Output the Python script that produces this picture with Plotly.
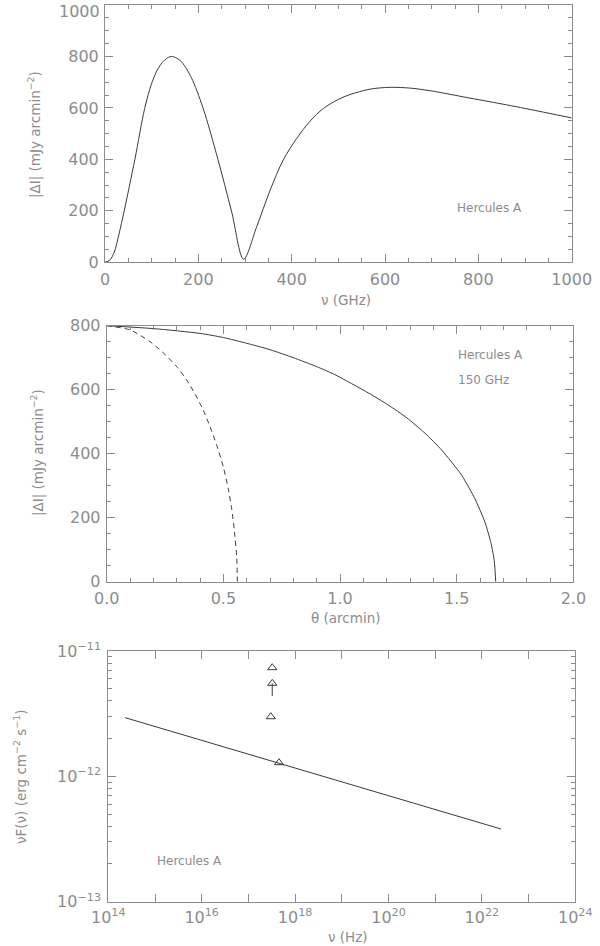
import plotly.graph_objects as go

# top panel: |dI| against frequency (GHz)
nu_ghz = [0, 10, 20, 30, 41, 64, 85, 99, 110, 120, 131, 142, 154, 165, 185, 210, 242,
          271, 297, 325, 354, 382, 411, 439, 468, 500, 525, 568, 611, 654, 696,
          739, 782, 825, 900, 1000]
di_nu = [0, 8, 40, 110, 199, 400, 598, 690, 740, 770, 791, 800, 793, 777, 718, 600, 400,
         199, 12, 138, 281, 398, 482, 548, 598, 633, 652, 673, 680, 677, 667,
         653, 638, 624, 598, 561]
ytick_top = [0, 200, 400, 600, 800, 1000]

# middle panel: profiles at 150 GHz
theta_solid = [0, 0.2, 0.4, 0.5, 0.6, 0.7, 0.8, 0.9, 0.978, 1.121, 1.207, 1.286,
               1.364, 1.436, 1.521, 1.578, 1.621, 1.647, 1.661, 1.667]
di_solid = [800, 791, 776, 763, 745, 725, 700, 672, 647, 590, 552, 512,
            464, 411, 333, 259, 186, 120, 65, 0]
theta_dash = [0, 0.1, 0.186, 0.25, 0.3, 0.343, 0.379, 0.414, 0.443, 0.471,
              0.5, 0.521, 0.536, 0.547, 0.557, 0.56]
di_dash = [800, 787, 750, 710, 672, 630, 586, 536, 484, 428, 358, 290, 226,
           160, 80, 0]

# bottom panel: nuF(nu)
nu_line = [2.28e14, 2.57e22]
nuf_line = [2.94e-12, 3.8e-13]
nu_obs = [3.24e17, 3.24e17, 3.02e17, 4.52e17]
nuf_obs = [7.36e-12, 5.52e-12, 2.99e-12, 1.285e-12]
nuf_err_lo = [0, 1.15e-12, 0, 0]

ytick_log = [1e-13, 1e-12, 1e-11]
ytick_log_txt = ['10<sup>−13</sup>', '10<sup>−12</sup>', '10<sup>−11</sup>']
xtick_log = [10.0 ** k for k in range(14, 25)]
xtick_log_txt = ['10<sup>%d</sup>' % k if k % 2 == 0 else '' for k in range(14, 25)]

FONT = 'DejaVu Sans'
TXT = '#8c8c8c'
AX = '#8c8c8c'
LINE = '#3a3a3a'
W, H = 600, 946

fig = go.Figure()
fig.add_trace(go.Scatter(x=nu_ghz, y=di_nu, mode='lines', xaxis='x', yaxis='y',
                         line=dict(color=LINE, width=1, shape='spline', smoothing=0.9)))
fig.add_trace(go.Scatter(x=theta_solid, y=di_solid, mode='lines', xaxis='x2', yaxis='y2',
                         line=dict(color=LINE, width=1, shape='spline', smoothing=0.6)))
fig.add_trace(go.Scatter(x=theta_dash, y=di_dash, mode='lines', xaxis='x2', yaxis='y2',
                         line=dict(color=LINE, width=1, dash='5px,4px', shape='spline', smoothing=0.6)))
fig.add_trace(go.Scatter(x=nu_line, y=nuf_line, mode='lines', xaxis='x3', yaxis='y3',
                         line=dict(color=LINE, width=1)))
fig.add_trace(go.Scatter(x=nu_obs, y=nuf_obs, mode='markers', xaxis='x3', yaxis='y3',
                         marker=dict(symbol='triangle-up-open', size=8, color=LINE,
                                     line=dict(width=1, color=LINE)),
                         error_y=dict(type='data', symmetric=False, array=[0, 0, 0, 0],
                                      arrayminus=nuf_err_lo, width=0, thickness=1, color=LINE)))


def axis_style(**kw):
    d = dict(showline=True, linecolor=AX, linewidth=1, mirror='ticks', ticks='inside',
             tickcolor=AX, ticklen=8, tickwidth=1, showgrid=False, zeroline=False,
             tickfont=dict(family=FONT, size=16, color=TXT),
             ticklabeloverflow='allow', automargin=False)
    d.update(kw)
    return d


def px_x(p):
    return p / W


def px_y(p):
    return 1 - p / H


def minor_lin(dt):
    return dict(dtick=dt, ticks='inside', ticklen=4, tickcolor=AX)


# the top "1000" label sits just inside the figure edge, so it is written separately below
ytick_top_txt = [str(v) for v in ytick_top[:-1]] + ['']

fig.update_layout(
    width=W, height=H, showlegend=False,
    paper_bgcolor='white', plot_bgcolor='white',
    margin=dict(l=0, r=0, t=0, b=0),
    xaxis=axis_style(domain=[px_x(105), px_x(571.7)], anchor='y', range=[0, 1000],
                     tickvals=[0, 200, 400, 600, 800, 1000], minor=minor_lin(50),
                     ticklabelstandoff=2),
    yaxis=axis_style(domain=[px_y(262.3), px_y(5)], anchor='x', range=[0, 1000],
                     tickvals=ytick_top, ticktext=ytick_top_txt, minor=minor_lin(50),
                     ticklabelstandoff=2),
    xaxis2=axis_style(domain=[px_x(106.7), px_x(573.4)], anchor='y2', range=[0, 2],
                      tickvals=[0, 0.5, 1, 1.5, 2], ticktext=['0.0', '0.5', '1.0', '1.5', '2.0'],
                      minor=minor_lin(0.1), ticklabelstandoff=2),
    yaxis2=axis_style(domain=[px_y(581.7), px_y(325.7)], anchor='x2', range=[0, 800],
                      tickvals=[0, 200, 400, 600, 800], minor=minor_lin(50),
                      ticklabelstandoff=2),
    xaxis3=axis_style(domain=[px_x(108.3), px_x(575.3)], anchor='y3', type='log',
                      range=[14, 24], tickvals=xtick_log, ticktext=xtick_log_txt,
                      ticklabelstandoff=1),
    yaxis3=axis_style(domain=[px_y(901.7), px_y(651)], anchor='x3', type='log',
                      range=[-13, -11], tickvals=ytick_log, ticktext=ytick_log_txt,
                      minor=dict(dtick='D1', ticks='inside', ticklen=4, tickcolor=AX),
                      ticklabelstandoff=3),
)

ann_font = dict(family=FONT, size=13.5, color=TXT)
lab_font = dict(family=FONT, size=12, color=TXT)
notes = [
    dict(x=px_x(102), y=px_y(11), text=str(ytick_top[-1]), xanchor='right',
         font=dict(family=FONT, size=16, color=TXT)),
    # axis titles
    dict(x=px_x(346), y=px_y(300), text='ν (GHz)', font=ann_font),
    dict(x=px_x(35), y=px_y(135), text='|ΔI| (mJy arcmin<sup>−2</sup>)', textangle=-90, font=ann_font),
    dict(x=px_x(346), y=px_y(618), text='θ (arcmin)', font=ann_font),
    dict(x=px_x(37), y=px_y(453), text='|ΔI| (mJy arcmin<sup>−2</sup>)', textangle=-90, font=ann_font),
    dict(x=px_x(348), y=px_y(937), text='ν (Hz)', font=ann_font),
    dict(x=px_x(20), y=px_y(777), text='νF(ν) (erg cm<sup>−2</sup> s<sup>−1</sup>)', textangle=-90, font=ann_font),
    # labels inside the panels
    dict(x=px_x(455), y=px_y(208), text='Hercules A', xanchor='left', font=lab_font),
    dict(x=px_x(456), y=px_y(355), text='Hercules A', xanchor='left', font=lab_font),
    dict(x=px_x(456), y=px_y(380), text='150 GHz', xanchor='left', font=lab_font),
    dict(x=px_x(155), y=px_y(861), text='Hercules A', xanchor='left', font=lab_font),
]
for n in notes:
    n.setdefault('xanchor', 'center')
    fig.add_annotation(xref='paper', yref='paper', yanchor='middle', showarrow=False, **n)

# the page body has an 8px default margin; drop it so the figure sits at the corner
fig.write_html("out.html", config={'displayModeBar': False},
               post_script="document.body.style.margin='0';")
